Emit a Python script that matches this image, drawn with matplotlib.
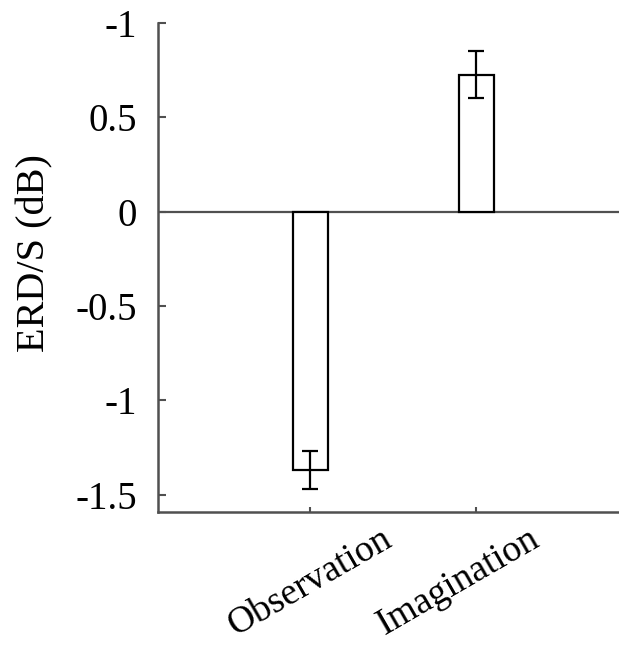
import matplotlib
matplotlib.use("Agg")
import matplotlib.pyplot as plt
import matplotlib.transforms as mtransforms

# Mean ERD/S per condition and its error
conditions = ["Observation", "Imagination"]
erds_mean = [-1.37, 0.725]
erds_err = [0.10, 0.125]

# Y ticks and their printed labels
ytick_values = [1.0, 0.5, 0.0, -0.5, -1.0, -1.5]
ytick_labels = ["-1", "0.5", "0", "-0.5", "-1", "-1.5"]

plt.rcParams["font.family"] = ["Liberation Serif", "DejaVu Serif"]

fig = plt.figure(figsize=(6.19, 6.46), dpi=100)
ax = fig.add_axes([0.2545, 0.2079, 0.7455, 0.757])

axis_color = "#505050"
x = [1, 2]
ax.axhline(0, color=axis_color, lw=1.6, zorder=1)
ax.bar(x, erds_mean, width=0.21, color="white", edgecolor="black",
       linewidth=1.6, zorder=2)
ax.errorbar(x, erds_mean, yerr=erds_err, fmt="none", ecolor="black",
            elinewidth=1.6, capsize=5.8, capthick=1.6, zorder=3)

ax.set_xlim(0.08, 2.86)
ax.set_ylim(-1.589, 1.0)

for side in ("top", "right"):
    ax.spines[side].set_visible(False)
for side in ("left", "bottom"):
    ax.spines[side].set_color(axis_color)
    ax.spines[side].set_linewidth(1.8)

ax.set_yticks(ytick_values)
ax.set_yticklabels(ytick_labels)
ax.set_xticks(x)
ax.set_xticklabels(conditions, rotation=30, ha="center")

ax.tick_params(axis="y", direction="in", length=5.5, width=1.5,
               color=axis_color, labelsize=28, pad=15)
ax.tick_params(axis="x", direction="in", length=3.5, width=1.5,
               color=axis_color, labelsize=27, pad=7)

# nudge the second category label slightly left
lbls = ax.get_xticklabels()
lbls[1].set_transform(lbls[1].get_transform() +
                      mtransforms.ScaledTranslation(-18 / 100, 0, fig.dpi_scale_trans))

fig.text(35 / 619, 1 - 253 / 646, "ERD/S (dB)", rotation=90,
         ha="center", va="center", fontsize=29)

fig.savefig("out.png", dpi=100)
